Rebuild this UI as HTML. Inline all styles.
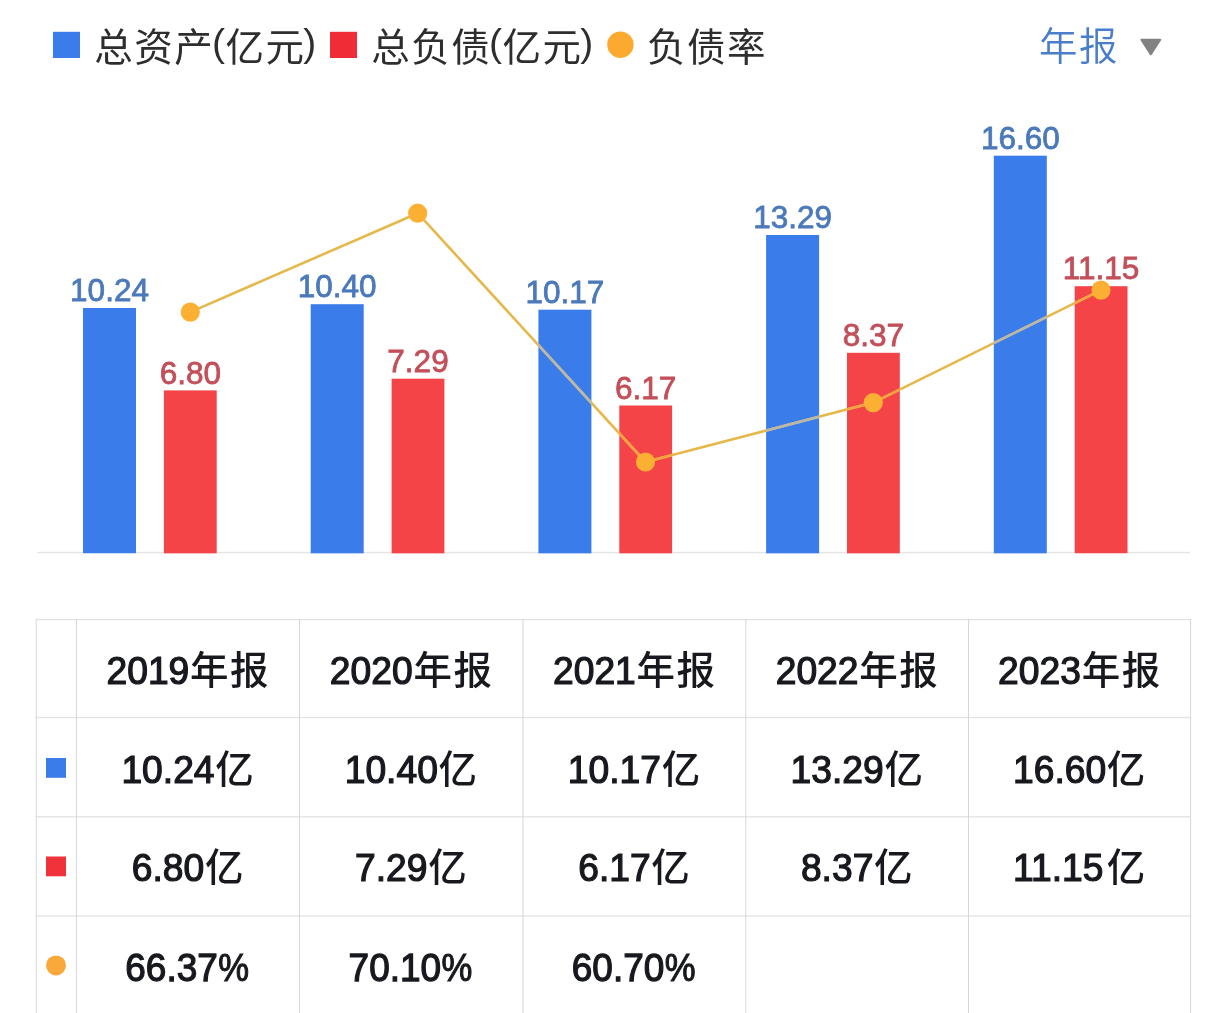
<!DOCTYPE html>
<html lang="zh-CN"><head><meta charset="utf-8"><title>总资产 总负债 负债率</title>
<style>html,body{margin:0;padding:0;background:#fff}body{width:1224px;height:1013px;overflow:hidden;position:relative}svg{position:absolute;left:0;top:0;display:block}text{font-family:"Liberation Sans","Noto Sans CJK SC",sans-serif}</style>
</head><body>
<svg width="1224" height="1013" viewBox="0 0 1224 1013">
<rect width="1224" height="1013" fill="#fff"/>
<g id="legend">
<rect x="53" y="31.8" width="27" height="26.2" fill="#3b7ceb"/>
<text x="94.2" y="60.9" font-size="38.5" letter-spacing="1.5" fill="#2e2e2e">总资产<tspan font-size="39" dy="-4.5" dx="-2.2" letter-spacing="0.5">(</tspan><tspan dy="4.5">亿元</tspan><tspan font-size="39" dy="-4.5" dx="-2.2" letter-spacing="0">)</tspan></text>
<rect x="330" y="31.8" width="27" height="26.2" fill="#f02d36"/>
<text x="371.2" y="60.9" font-size="38.5" letter-spacing="1.5" fill="#2e2e2e">总负债<tspan font-size="39" dy="-4.5" dx="-2.2" letter-spacing="0.5">(</tspan><tspan dy="4.5">亿元</tspan><tspan font-size="39" dy="-4.5" dx="-2.2" letter-spacing="0">)</tspan></text>
<circle cx="620.4" cy="44.7" r="13.2" fill="#fcaa2f"/>
<text x="647.1" y="60.9" font-size="38.5" letter-spacing="1.5" fill="#2e2e2e">负债率</text>
<text x="1038.9" y="60.3" font-size="38.5" letter-spacing="1.5" font-weight="350" fill="#4a7ecb">年报</text>
<path d="M1141.6 38.7 L1160 38.7 Q1162 38.7 1160.9 40.5 L1151.9 54.6 Q1150.8 56.2 1149.7 54.6 L1140.7 40.5 Q1139.6 38.7 1141.6 38.7 Z" fill="#828282"/>
</g>
<g id="chart">
<rect x="37" y="551.8" width="1153" height="1.5" fill="#e5e5e5"/>
<rect x="83.0" y="308.0" width="53" height="245.2" fill="#3b7ceb"/>
<rect x="163.9" y="390.4" width="52.8" height="162.9" fill="#f44447"/>
<rect x="310.7" y="304.2" width="53" height="249.1" fill="#3b7ceb"/>
<rect x="391.6" y="378.7" width="52.8" height="174.6" fill="#f44447"/>
<rect x="538.4" y="309.7" width="53" height="243.6" fill="#3b7ceb"/>
<rect x="619.3" y="405.5" width="52.8" height="147.8" fill="#f44447"/>
<rect x="766.1" y="235.0" width="53" height="318.3" fill="#3b7ceb"/>
<rect x="847.0" y="352.8" width="52.8" height="200.5" fill="#f44447"/>
<rect x="993.8" y="155.7" width="53" height="397.6" fill="#3b7ceb"/>
<rect x="1074.7" y="286.2" width="52.8" height="267.0" fill="#f44447"/>
<text transform="translate(109.5 301.2) scale(0.985 1)" text-anchor="middle" font-size="32" fill="#4b79ba" stroke="#4b79ba" stroke-width="0.8">10.24</text>
<text transform="translate(190.3 383.6) scale(0.985 1)" text-anchor="middle" font-size="32" fill="#c24f59" stroke="#c24f59" stroke-width="0.8">6.80</text>
<text transform="translate(337.2 297.4) scale(0.985 1)" text-anchor="middle" font-size="32" fill="#4b79ba" stroke="#4b79ba" stroke-width="0.8">10.40</text>
<text transform="translate(418.0 371.9) scale(0.985 1)" text-anchor="middle" font-size="32" fill="#c24f59" stroke="#c24f59" stroke-width="0.8">7.29</text>
<text transform="translate(564.9 302.9) scale(0.985 1)" text-anchor="middle" font-size="32" fill="#4b79ba" stroke="#4b79ba" stroke-width="0.8">10.17</text>
<text transform="translate(645.7 398.7) scale(0.985 1)" text-anchor="middle" font-size="32" fill="#c24f59" stroke="#c24f59" stroke-width="0.8">6.17</text>
<text transform="translate(792.6 228.2) scale(0.985 1)" text-anchor="middle" font-size="32" fill="#4b79ba" stroke="#4b79ba" stroke-width="0.8">13.29</text>
<text transform="translate(873.4 346.0) scale(0.985 1)" text-anchor="middle" font-size="32" fill="#c24f59" stroke="#c24f59" stroke-width="0.8">8.37</text>
<text transform="translate(1020.3 148.9) scale(0.985 1)" text-anchor="middle" font-size="32" fill="#4b79ba" stroke="#4b79ba" stroke-width="0.8">16.60</text>
<text transform="translate(1101.1 279.4) scale(0.985 1)" text-anchor="middle" font-size="32" fill="#c24f59" stroke="#c24f59" stroke-width="0.8">11.15</text>
<polyline points="190.3,312.1 417.7,213.2 645.5,462.0 873.3,402.6 1101.0,290.1" fill="none" stroke="#e6b84c" stroke-width="2.6" stroke-linejoin="round"/>
<clipPath id="cb"><rect x="83.0" y="308.0" width="53" height="245.2"/><rect x="310.7" y="304.2" width="53" height="249.1"/><rect x="538.4" y="309.7" width="53" height="243.6"/><rect x="766.1" y="235.0" width="53" height="318.3"/><rect x="993.8" y="155.7" width="53" height="397.6"/></clipPath>
<clipPath id="cr"><rect x="163.9" y="390.4" width="52.8" height="162.9"/><rect x="391.6" y="378.7" width="52.8" height="174.6"/><rect x="619.3" y="405.5" width="52.8" height="147.8"/><rect x="847.0" y="352.8" width="52.8" height="200.5"/><rect x="1074.7" y="286.2" width="52.8" height="267.0"/></clipPath>
<polyline points="190.3,312.1 417.7,213.2 645.5,462.0 873.3,402.6 1101.0,290.1" fill="none" stroke="#b8b8ae" stroke-width="2.6" clip-path="url(#cb)"/>
<polyline points="190.3,312.1 417.7,213.2 645.5,462.0 873.3,402.6 1101.0,290.1" fill="none" stroke="#f4a243" stroke-width="2.6" clip-path="url(#cr)"/>
<circle cx="190.3" cy="312.1" r="9.6" fill="#fbb033"/>
<circle cx="417.7" cy="213.2" r="9.6" fill="#fbb033"/>
<circle cx="645.5" cy="462.0" r="9.6" fill="#fbb033"/>
<circle cx="873.3" cy="402.6" r="9.6" fill="#fbb033"/>
<circle cx="1101.0" cy="290.1" r="9.6" fill="#fbb033"/>
</g>
<g id="table">
<g fill="#e4e4e4">
<rect x="36" y="618.9" width="1155" height="1.4"/>
<rect x="36" y="716.8" width="1155" height="1.4"/>
<rect x="36" y="816.1" width="1155" height="1.4"/>
<rect x="36" y="915.3" width="1155" height="1.4"/>
</g>
<g fill="#d6d6d6">
<rect x="35.7" y="619" width="1" height="400"/>
<rect x="75.9" y="619" width="1" height="400"/>
<rect x="299.0" y="619" width="1" height="400"/>
<rect x="522.5" y="619" width="1" height="400"/>
<rect x="745.3" y="619" width="1" height="400"/>
<rect x="968.0" y="619" width="1" height="400"/>
<rect x="1190.1" y="619" width="1" height="400"/>
</g>
<rect x="46" y="758" width="20" height="19.8" fill="#3b7ceb"/>
<rect x="46" y="856.5" width="20" height="19.8" fill="#f0323a"/>
<circle cx="56" cy="965.4" r="10" fill="#f9a83a"/>
<text transform="translate(106.5 683.7) scale(0.967 1)" font-size="38.5" fill="#17191e" stroke="#17191e" stroke-width="1.25">2019</text>
<text x="190.1" y="683.7" font-size="38.5" letter-spacing="1.5" font-weight="500" fill="#17191e">年报</text>
<text transform="translate(121.4 782.6) scale(0.967 1)" font-size="38.5" fill="#17191e" stroke="#17191e" stroke-width="1.25">10.24</text>
<text x="215.2" y="782.6" font-size="38.5" letter-spacing="1.5" font-weight="500" fill="#17191e">亿</text>
<text transform="translate(131.7 881.2) scale(0.967 1)" font-size="38.5" fill="#17191e" stroke="#17191e" stroke-width="1.25">6.80</text>
<text x="204.9" y="881.2" font-size="38.5" letter-spacing="1.5" font-weight="500" fill="#17191e">亿</text>
<text transform="translate(125.3 980.8) scale(0.96 1)" font-size="38.5" fill="#17191e" stroke="#17191e" stroke-width="1.25">66.37</text>
<text transform="translate(218.3 980.8) scale(0.9 1)" font-size="38.5" fill="#17191e" stroke="#17191e" stroke-width="1.1">%</text>
<text transform="translate(329.8 683.7) scale(0.967 1)" font-size="38.5" fill="#17191e" stroke="#17191e" stroke-width="1.25">2020</text>
<text x="413.4" y="683.7" font-size="38.5" letter-spacing="1.5" font-weight="500" fill="#17191e">年报</text>
<text transform="translate(344.7 782.6) scale(0.967 1)" font-size="38.5" fill="#17191e" stroke="#17191e" stroke-width="1.25">10.40</text>
<text x="438.5" y="782.6" font-size="38.5" letter-spacing="1.5" font-weight="500" fill="#17191e">亿</text>
<text transform="translate(355.0 881.2) scale(0.967 1)" font-size="38.5" fill="#17191e" stroke="#17191e" stroke-width="1.25">7.29</text>
<text x="428.2" y="881.2" font-size="38.5" letter-spacing="1.5" font-weight="500" fill="#17191e">亿</text>
<text transform="translate(348.6 980.8) scale(0.96 1)" font-size="38.5" fill="#17191e" stroke="#17191e" stroke-width="1.25">70.10</text>
<text transform="translate(441.6 980.8) scale(0.9 1)" font-size="38.5" fill="#17191e" stroke="#17191e" stroke-width="1.1">%</text>
<text transform="translate(553.0 683.7) scale(0.967 1)" font-size="38.5" fill="#17191e" stroke="#17191e" stroke-width="1.25">2021</text>
<text x="636.5" y="683.7" font-size="38.5" letter-spacing="1.5" font-weight="500" fill="#17191e">年报</text>
<text transform="translate(567.8 782.6) scale(0.967 1)" font-size="38.5" fill="#17191e" stroke="#17191e" stroke-width="1.25">10.17</text>
<text x="661.7" y="782.6" font-size="38.5" letter-spacing="1.5" font-weight="500" fill="#17191e">亿</text>
<text transform="translate(578.2 881.2) scale(0.967 1)" font-size="38.5" fill="#17191e" stroke="#17191e" stroke-width="1.25">6.17</text>
<text x="651.3" y="881.2" font-size="38.5" letter-spacing="1.5" font-weight="500" fill="#17191e">亿</text>
<text transform="translate(571.8 980.8) scale(0.96 1)" font-size="38.5" fill="#17191e" stroke="#17191e" stroke-width="1.25">60.70</text>
<text transform="translate(664.7 980.8) scale(0.9 1)" font-size="38.5" fill="#17191e" stroke="#17191e" stroke-width="1.1">%</text>
<text transform="translate(775.7 683.7) scale(0.967 1)" font-size="38.5" fill="#17191e" stroke="#17191e" stroke-width="1.25">2022</text>
<text x="859.3" y="683.7" font-size="38.5" letter-spacing="1.5" font-weight="500" fill="#17191e">年报</text>
<text transform="translate(790.6 782.6) scale(0.967 1)" font-size="38.5" fill="#17191e" stroke="#17191e" stroke-width="1.25">13.29</text>
<text x="884.4" y="782.6" font-size="38.5" letter-spacing="1.5" font-weight="500" fill="#17191e">亿</text>
<text transform="translate(800.9 881.2) scale(0.967 1)" font-size="38.5" fill="#17191e" stroke="#17191e" stroke-width="1.25">8.37</text>
<text x="874.1" y="881.2" font-size="38.5" letter-spacing="1.5" font-weight="500" fill="#17191e">亿</text>
<text transform="translate(998.1 683.7) scale(0.967 1)" font-size="38.5" fill="#17191e" stroke="#17191e" stroke-width="1.25">2023</text>
<text x="1081.7" y="683.7" font-size="38.5" letter-spacing="1.5" font-weight="500" fill="#17191e">年报</text>
<text transform="translate(1013.0 782.6) scale(0.967 1)" font-size="38.5" fill="#17191e" stroke="#17191e" stroke-width="1.25">16.60</text>
<text x="1106.8" y="782.6" font-size="38.5" letter-spacing="1.5" font-weight="500" fill="#17191e">亿</text>
<text transform="translate(1013.0 881.2) scale(0.967 1)" font-size="38.5" fill="#17191e" stroke="#17191e" stroke-width="1.25">11.15</text>
<text x="1106.8" y="881.2" font-size="38.5" letter-spacing="1.5" font-weight="500" fill="#17191e">亿</text>
</g>
</svg>
</body></html>
